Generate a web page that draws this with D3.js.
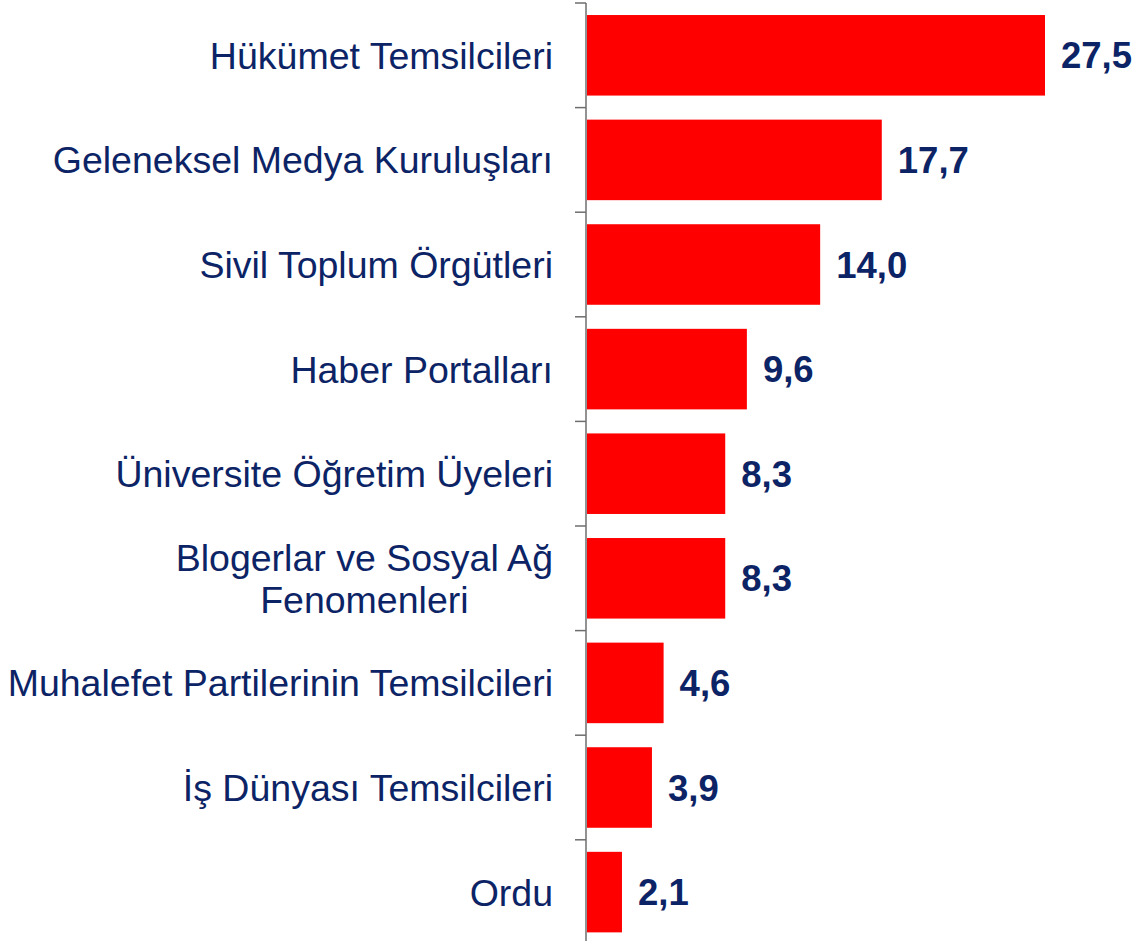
<!DOCTYPE html>
<meta charset="utf-8">
<script src="https://cdnjs.cloudflare.com/ajax/libs/d3/7.8.5/d3.min.js"></script>
<style>
  body { margin: 0; background: #fff; }
</style>
<div id="chart"></div>
<script>
// categories (top to bottom) and their values
var categories = [
  "Hükümet Temsilcileri",
  "Geleneksel Medya Kuruluşları",
  "Sivil Toplum Örgütleri",
  "Haber Portalları",
  "Üniversite Öğretim Üyeleri",
  "Blogerlar ve Sosyal Ağ\nFenomenleri",
  "Muhalefet Partilerinin Temsilcileri",
  "İş Dünyası Temsilcileri",
  "Ordu"
]
var values = [27.5, 17.7, 14.0, 9.6, 8.3, 8.3, 4.6, 3.9, 2.1]

var width = 1138, height = 941
var axisX = 586
var navy = "#0c2466"

var svg = d3.select("#chart").append("svg")
  .attr("width", width)
  .attr("height", height)

// scales
var y = d3.scaleBand()
  .domain(categories)
  .range([3, 3 + 9 * 104.6])
  .paddingInner(0.23)
  .paddingOuter(0.115)

var x = d3.scaleLinear()
  .domain([0, 27.5])
  .range([axisX + 1, 1045])

var step = y.step()

// bars
svg.selectAll("rect.bar")
  .data(values)
  .enter()
  .append("rect")
  .attr("class", "bar")
  .attr("x", x(0))
  .attr("y", function(d, i) { return y(categories[i]) })
  .attr("width", function(d) { return x(d) - x(0) })
  .attr("height", y.bandwidth())
  .attr("fill", "#ff0000")

// axis line + ticks at band boundaries
var g = svg.append("g").attr("stroke", "#6e6e6e").attr("stroke-width", 1.5)
g.append("line")
  .attr("x1", axisX).attr("x2", axisX)
  .attr("y1", 3).attr("y2", height)
categories.forEach(function(c) {
  var ty = y(c) - y.paddingInner() * step / 2
  g.append("line")
    .attr("x1", axisX - 11).attr("x2", axisX)
    .attr("y1", ty).attr("y2", ty)
})

// value labels
svg.selectAll("text.val")
  .data(values)
  .enter()
  .append("text")
  .attr("class", "val")
  .attr("x", function(d) { return x(d) + 16 })
  .attr("y", function(d, i) { return y(categories[i]) + y.bandwidth() / 2 })
  .attr("dy", "0.36em")
  .style("font-family", "'Liberation Sans', Arial, sans-serif")
  .style("font-weight", "bold")
  .style("font-size", "36.5px")
  .attr("fill", navy)
  .text(function(d) { return d3.format(".1f")(d).replace(".", ",") })

// category labels (right aligned block, lines centered)
var labelRight = 553
var lineH = 42
categories.forEach(function(c) {
  var lines = c.split("\n")
  var cy = y(c) + y.bandwidth() / 2
  var t = svg.append("text")
    .style("font-family", "'Liberation Sans', Arial, sans-serif")
    .style("font-size", "37.5px")
    .attr("fill", navy)
  var spans = lines.map(function(l, k) {
    return t.append("tspan")
      .attr("y", cy + (k - (lines.length - 1) / 2) * lineH)
      .attr("dy", "0.36em")
      .text(l)
  })
  var maxW = d3.max(spans, function(s) { return s.node().getComputedTextLength() })
  spans.forEach(function(s) {
    if (lines.length > 1) {
      s.attr("x", labelRight - maxW / 2).attr("text-anchor", "middle")
    } else {
      s.attr("x", labelRight).attr("text-anchor", "end")
    }
  })
})
</script>
